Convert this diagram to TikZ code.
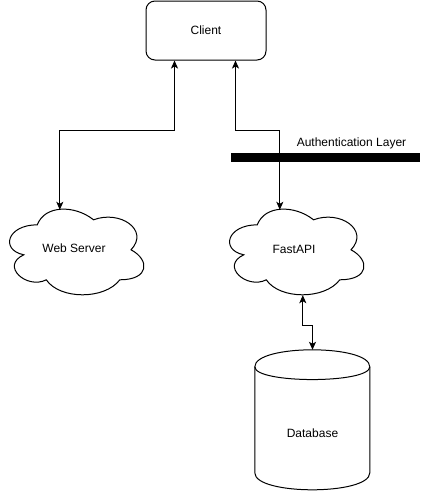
\documentclass[tikz,border=0pt]{standalone}
\usepackage{fontspec}
\setmainfont{Liberation Sans}
\usetikzlibrary{arrows.meta}
\tikzset{
  lbl/.style={font=\fontsize{12}{14}\selectfont, text=black},
  boxnode/.style={draw=black, line width=1pt, fill=white, rounded corners=9pt, minimum width=120pt, minimum height=59pt, inner sep=0pt, lbl},
  holder/.style={inner sep=0pt, lbl},
  outline/.style={draw=black, line width=1pt, fill=white},
  conn/.style={draw=black, line width=1pt, {Stealth[length=8pt,width=7pt,inset=2pt]}-{Stealth[length=8pt,width=7pt,inset=2pt]}},
  barstyle/.style={fill=black, draw=none, minimum width=189pt, minimum height=9pt, inner sep=0pt}
}
\begin{document}
\begin{tikzpicture}[x=1pt,y=-1pt]
\useasboundingbox (0,0) rectangle (427,491);
% Client
\node[boxnode] (client) at (206,30.5) {Client};
% Clouds: holder rectangles give the box of each cloud
\node[holder, minimum width=150pt, minimum height=100pt] (ws) at (75,250) {};
\node[holder, minimum width=150pt, minimum height=100pt] (api) at (295,250) {};
\begin{scope}[shift={(ws.north west)}, x=150pt, y=-100pt]
\draw[outline] (0.25,0.25) .. controls (0.05,0.25) and (0,0.5) .. (0.16,0.55)
  .. controls (0,0.66) and (0.18,0.9) .. (0.31,0.8)
  .. controls (0.4,1) and (0.7,1) .. (0.8,0.8)
  .. controls (1,0.8) and (1,0.6) .. (0.875,0.5)
  .. controls (1,0.3) and (0.8,0.1) .. (0.625,0.2)
  .. controls (0.5,0.05) and (0.3,0.05) .. (0.25,0.25) -- cycle;
\end{scope}
\begin{scope}[shift={(api.north west)}, x=150pt, y=-100pt]
\draw[outline] (0.25,0.25) .. controls (0.05,0.25) and (0,0.5) .. (0.16,0.55)
  .. controls (0,0.66) and (0.18,0.9) .. (0.31,0.8)
  .. controls (0.4,1) and (0.7,1) .. (0.8,0.8)
  .. controls (1,0.8) and (1,0.6) .. (0.875,0.5)
  .. controls (1,0.3) and (0.8,0.1) .. (0.625,0.2)
  .. controls (0.5,0.05) and (0.3,0.05) .. (0.25,0.25) -- cycle;
\end{scope}
\node[lbl] (wslbl) at (74,248) {Web Server};
\node[lbl] (apilbl) at (294,249) {FastAPI};
% Database cylinder
\node[holder, minimum width=115pt, minimum height=140pt] (db) at (312.5,420) {};
\begin{scope}[shift={(db.north west)}, x=115pt, y=-1pt]
\draw[outline] (0,17) .. controls (0,-5.67) and (1,-5.67) .. (1,17) -- (1,123)
  .. controls (1,145.67) and (0,145.67) .. (0,123) -- cycle;
\draw[draw=black, line width=1pt] (0,17) .. controls (0,34) and (1,34) .. (1,17);
\end{scope}
\node[lbl] (dblbl) at (312.5,433) {Database};
% Authentication layer
\node[barstyle] (bar) at (325.5,157.5) {};
\node[lbl] (authlbl) at (351.5,143) {Authentication Layer};
% Connectors
\draw[conn] ([xshift=29pt]client.south west) -- ++(0,70) -| ([xshift=60pt,yshift=-10pt]ws.north west);
\draw[conn] ([xshift=-31pt]client.south east) -- ++(0,70) -| ([xshift=60pt,yshift=-10pt]api.north west);
\draw[conn] ([xshift=83pt,yshift=5pt]api.south west) -- ++(0,30) -| (db.north);
\end{tikzpicture}
\end{document}
